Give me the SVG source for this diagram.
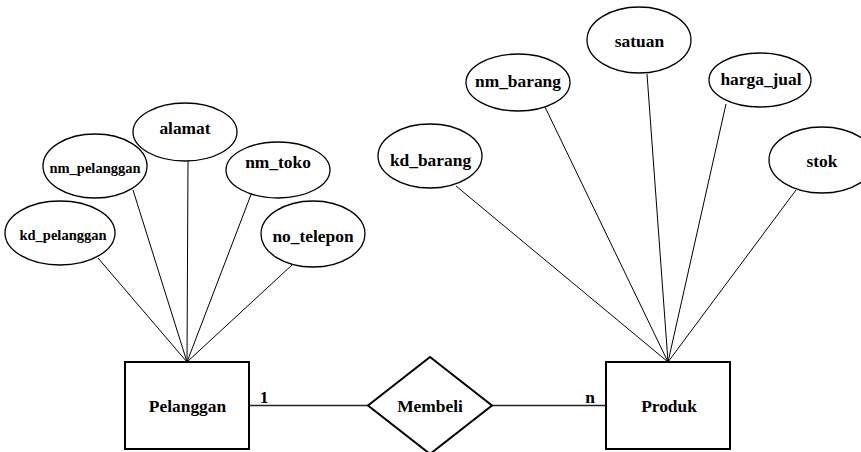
<svg xmlns="http://www.w3.org/2000/svg" width="861" height="452" viewBox="0 0 861 452">
<style>
.e{fill:#fff;stroke:#000;stroke-width:1.3}
.b{fill:#fff;stroke:#000;stroke-width:2}
.c{stroke:#000;stroke-width:1;fill:none}
.r{stroke:#222;stroke-width:1.5;fill:none}
text{font-family:"Liberation Serif","Times New Roman",serif;font-weight:bold;font-size:17.4px;text-anchor:middle;fill:#000}
.s{font-size:14.5px}
</style>
<rect width="861" height="452" fill="#fff"/>
<g id="connectors">
<line class="c" x1="188" y1="161" x2="187" y2="362"/>
<line class="c" x1="133" y1="190" x2="187" y2="362"/>
<line class="c" x1="252" y1="192" x2="187" y2="362"/>
<line class="c" x1="98" y1="258" x2="187" y2="362"/>
<line class="c" x1="292" y1="265" x2="187" y2="362"/>
<line class="c" x1="647" y1="74" x2="668" y2="362"/>
<line class="c" x1="545" y1="107" x2="668" y2="362"/>
<line class="c" x1="726" y1="104" x2="668" y2="362"/>
<line class="c" x1="456" y1="186" x2="668" y2="362"/>
<line class="c" x1="796" y1="190" x2="668" y2="362"/>
<line class="r" x1="249" y1="405.5" x2="368" y2="405.5"/>
<line class="r" x1="492" y1="405.5" x2="606" y2="405.5"/>
<text x="264" y="403">1</text>
<text x="590" y="403">n</text>
</g>
<g id="alamat"><ellipse class="e" cx="185" cy="132" rx="52" ry="29"/><text x="185" y="134">alamat</text></g>
<g id="nm_pelanggan"><ellipse class="e" cx="95" cy="166" rx="52" ry="32"/><text class="s" x="95" y="173">nm_pelanggan</text></g>
<g id="nm_toko"><ellipse class="e" cx="278" cy="170" rx="52" ry="28"/><text x="278" y="167.5">nm_toko</text></g>
<g id="kd_pelanggan"><ellipse class="e" cx="60" cy="233" rx="55" ry="32"/><text class="s" x="63" y="240">kd_pelanggan</text></g>
<g id="no_telepon"><ellipse class="e" cx="313" cy="234" rx="52" ry="33"/><text x="313" y="241.5">no_telepon</text></g>
<g id="satuan"><ellipse class="e" cx="639" cy="40" rx="52" ry="33"/><text x="639.5" y="46.5">satuan</text></g>
<g id="nm_barang"><ellipse class="e" cx="518" cy="82.5" rx="52" ry="28.5"/><text x="518" y="87">nm_barang</text></g>
<g id="harga_jual"><ellipse class="e" cx="760" cy="80" rx="51" ry="27"/><text x="761" y="85">harga_jual</text></g>
<g id="kd_barang"><ellipse class="e" cx="430" cy="156" rx="52" ry="32"/><text x="430.5" y="165.5">kd_barang</text></g>
<g id="stok"><ellipse class="e" cx="822" cy="160" rx="53" ry="33"/><text x="822" y="166.5">stok</text></g>
<g id="Pelanggan"><rect class="b" x="125" y="362" width="124" height="87"/><text x="187.5" y="411.5">Pelanggan</text></g>
<g id="Membeli"><polygon class="b" points="430,357 492,405.5 430,454 368,405.5"/><text x="430" y="412">Membeli</text></g>
<g id="Produk"><rect class="b" x="606" y="362" width="124" height="87"/><text x="669" y="411.5">Produk</text></g>
</svg>
